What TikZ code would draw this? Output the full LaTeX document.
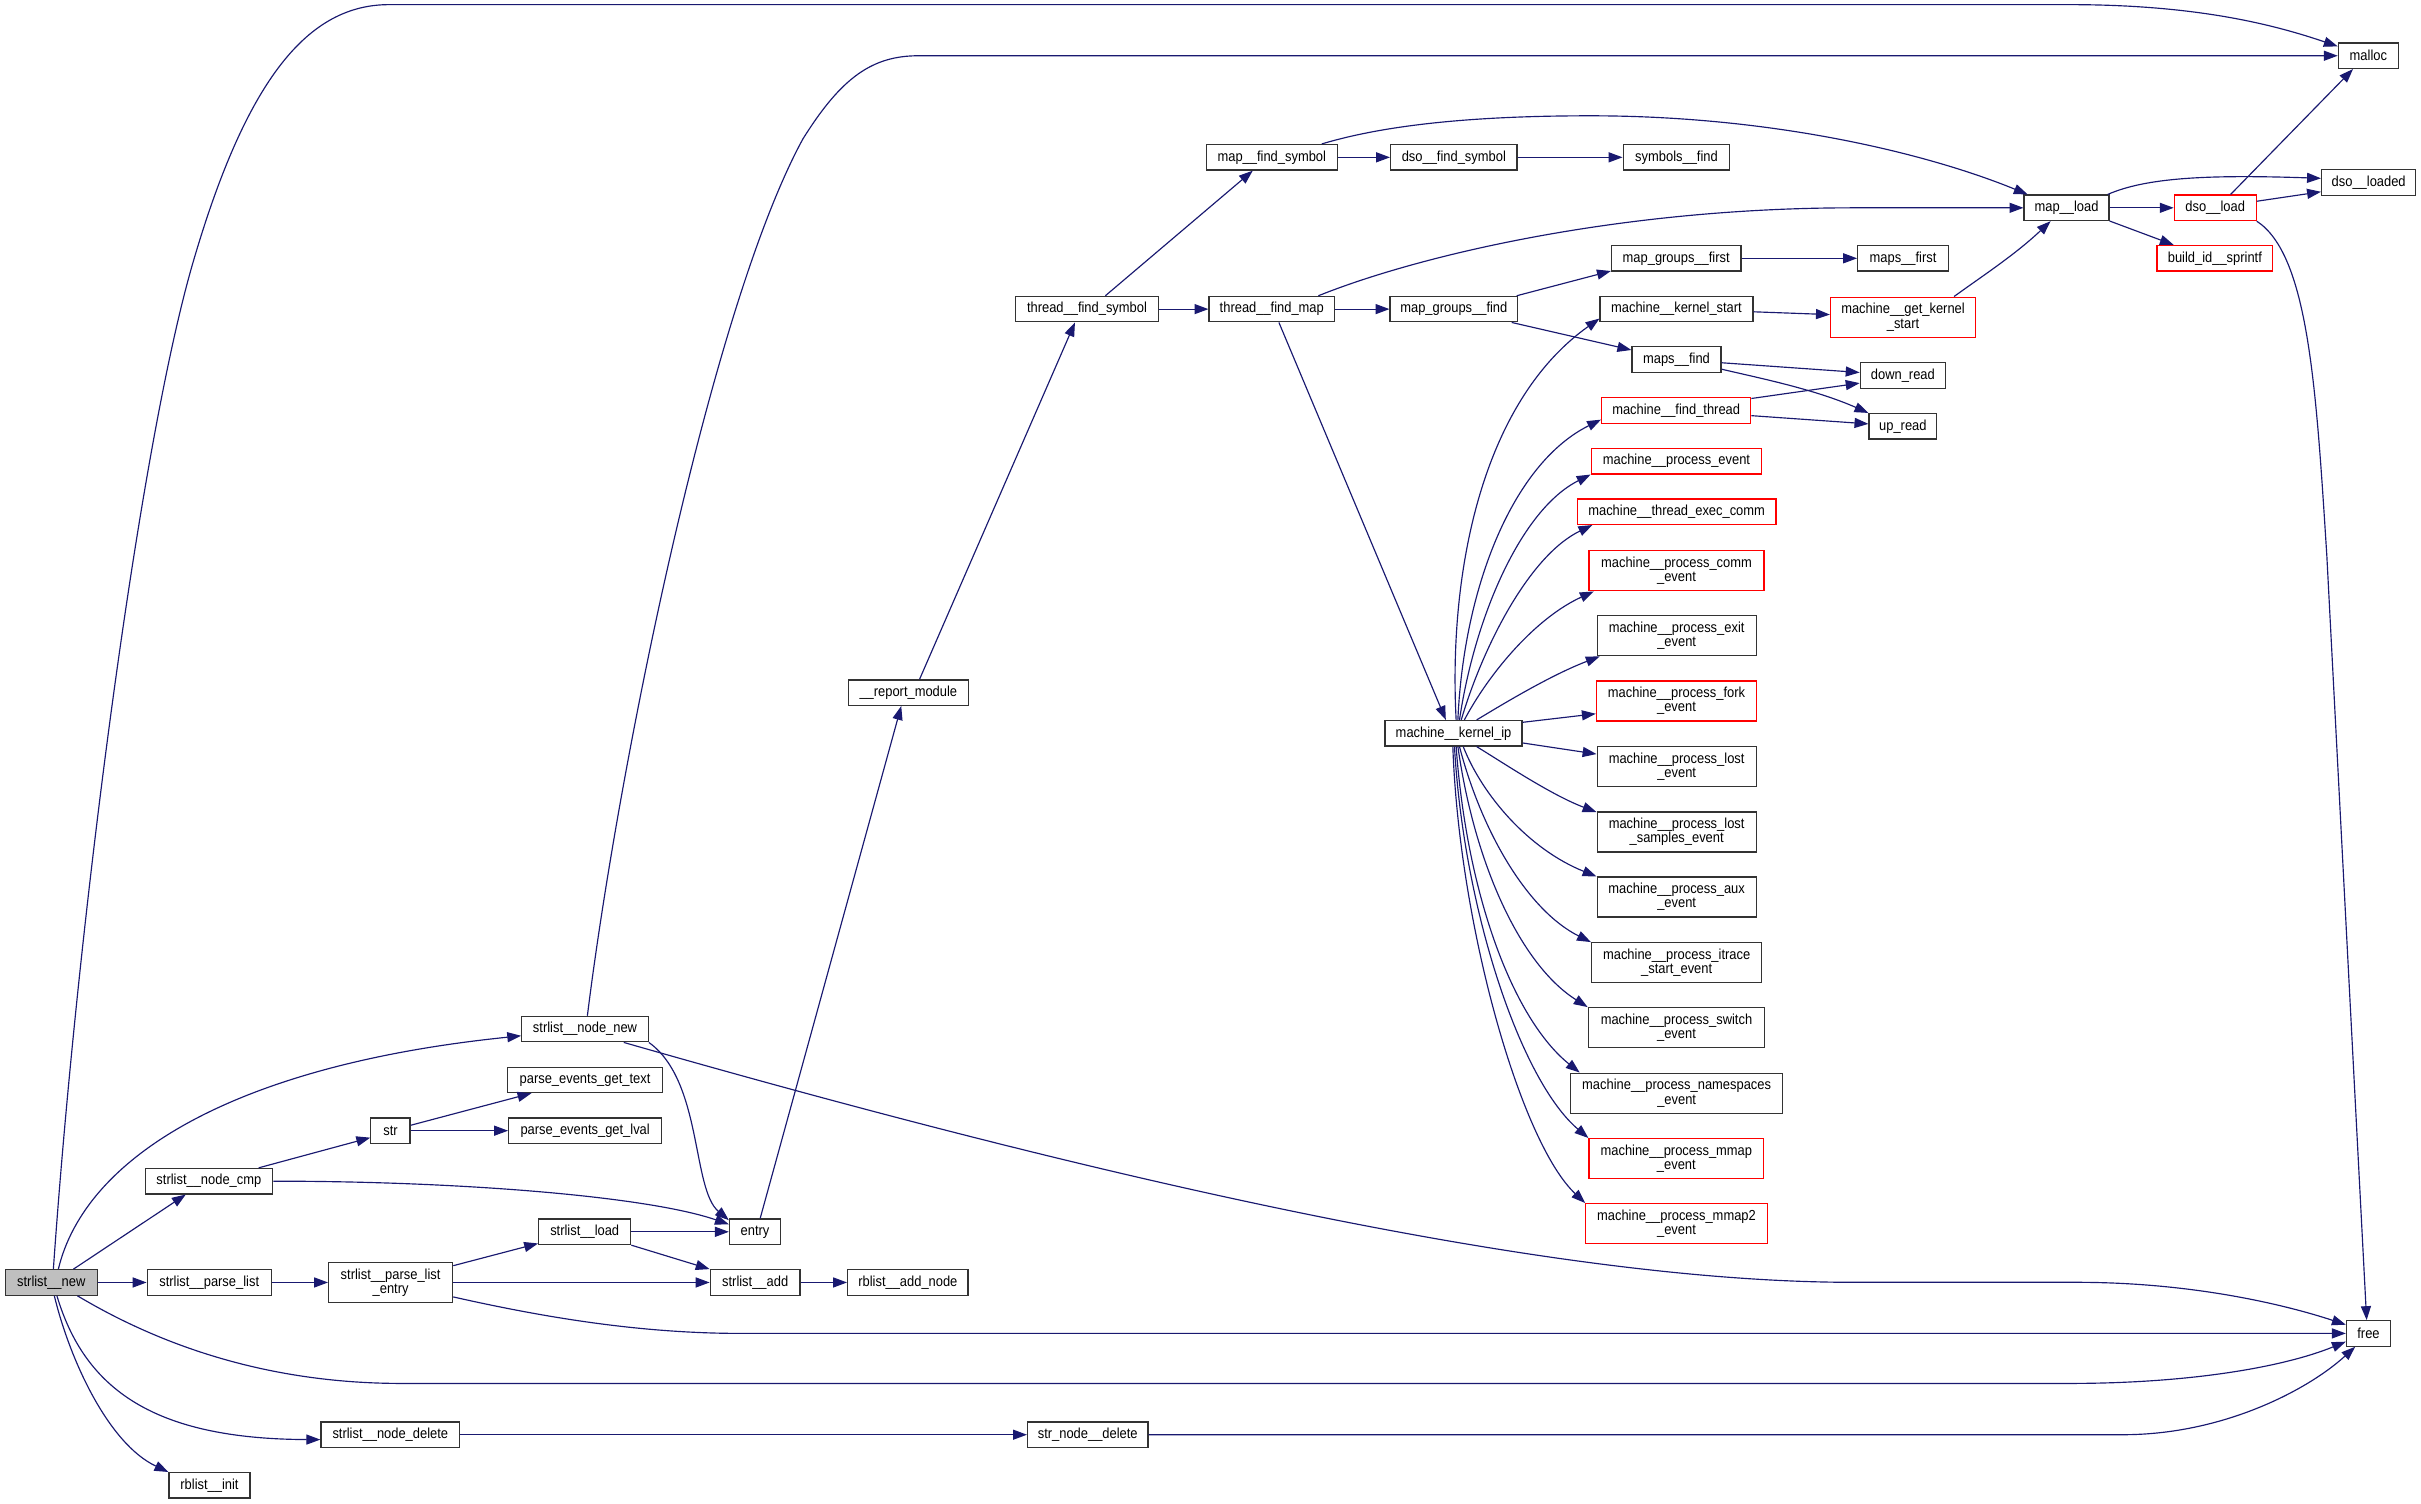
\documentclass[tikz,border=0pt]{standalone}
\usepackage{fontspec}
\setmainfont[FakeStretch=0.89]{Liberation Sans}
\usetikzlibrary{arrows.meta}
\definecolor{edgecol}{RGB}{25,25,112}
\definecolor{boxgray}{RGB}{191,191,191}
\newcommand\nodefnt{\fontsize{9.4}{9.2}\selectfont}
\tikzset{
  box/.style={draw=black!80, line width=0.8pt, fill=white, inner sep=0pt, align=center, font=\nodefnt, minimum height=16.5pt},
  tall/.style={minimum height=25.9pt},
  redbox/.style={box, draw=red},
  graybox/.style={box, fill=boxgray},
  edge/.style={draw=edgecol, line width=0.75pt, -{Triangle[length=9pt,width=6.5pt]}},
}
\begin{document}
\begin{tikzpicture}[x=1pt,y=-1pt]
\fill[white] (0,0) rectangle (1568,974);
\useasboundingbox (0,0) rectangle (1568,974);

% nodes
\node[graybox, minimum width=59.5pt] (S) at (33.2,830.6) {strlist\_\_new};
\node[box, minimum width=81.9pt] (NN) at (378.9,666.5) {strlist\_\_node\_new};
\node[box, minimum width=100.1pt] (PEGT) at (378.9,699.4) {parse\_events\_get\_text};
\node[box, minimum width=25.4pt] (STR) at (252.9,732.3) {str};
\node[box, minimum width=99.1pt] (PEGL) at (379,732.3) {parse\_events\_get\_lval};
\node[box, minimum width=82.6pt] (NCMP) at (135.3,765) {strlist\_\_node\_cmp};
\node[box, minimum width=59.6pt] (LOAD) at (378.7,797.8) {strlist\_\_load};
\node[box, minimum width=33.1pt] (ENTRY) at (489,797.8) {entry};
\node[box, minimum width=80.3pt] (PL) at (135.5,830.6) {strlist\_\_parse\_list};
\node[box, tall, minimum width=80.3pt, minimum height=25.7pt] (PLE) at (253,830.6) {strlist\_\_parse\_list\\\_entry};
\node[box, minimum width=58.2pt] (ADD) at (489.1,830.6) {strlist\_\_add};
\node[box, minimum width=78pt] (RAN) at (588,830.6) {rblist\_\_add\_node};
\node[box, minimum width=89.9pt] (ND) at (252.8,929.2) {strlist\_\_node\_delete};
\node[box, minimum width=78pt] (SND) at (704.5,929.2) {str\_node\_\_delete};
\node[box, minimum width=52.5pt] (RI) at (135.7,962) {rblist\_\_init};
\node[box, minimum width=77.5pt] (RM) at (588.3,448.6) {\_\_report\_module};
\node[box, minimum width=92.5pt] (TFS) at (704,200.2) {thread\_\_find\_symbol};
\node[box, minimum width=84.7pt] (MFS) at (823.7,101.9) {map\_\_find\_symbol};
\node[box, minimum width=81.9pt] (DFS) at (941.6,101.9) {dso\_\_find\_symbol};
\node[box, minimum width=69.1pt] (SF) at (1085.8,101.9) {symbols\_\_find};
\node[box, minimum width=81.3pt] (TFM) at (823.7,200.2) {thread\_\_find\_map};
\node[box, minimum width=82.6pt] (MGF) at (941.6,200.2) {map\_groups\_\_find};
\node[box, minimum width=83.8pt] (MGFI) at (1085.6,167.3) {map\_groups\_\_first};
\node[box, minimum width=58.7pt] (MF) at (1232.5,167.3) {maps\_\_first};
\node[box, minimum width=99pt] (MKS) at (1085.8,200.2) {machine\_\_kernel\_start};
\node[redbox, tall, minimum width=93.9pt] (MGKS) at (1232.5,205.4) {machine\_\_get\_kernel\\\_start};
\node[box, minimum width=57.7pt] (MAPSF) at (1085.8,232.9) {maps\_\_find};
\node[box, minimum width=55.2pt] (DR) at (1232.4,243.2) {down\_read};
\node[redbox, minimum width=96.6pt] (MFT) at (1085.6,265.8) {machine\_\_find\_thread};
\node[box, minimum width=43.8pt] (UR) at (1232.4,276.1) {up\_read};
\node[redbox, minimum width=110.5pt] (MPE) at (1085.8,298.7) {machine\_\_process\_event};
\node[redbox, minimum width=128.8pt] (MTEC) at (1085.9,331.4) {machine\_\_thread\_exec\_comm};
\node[redbox, tall, minimum width=113.3pt] (MPC) at (1085.8,369.7) {machine\_\_process\_comm\\\_event};
\node[box, tall, minimum width=103pt] (MPX) at (1085.9,411.8) {machine\_\_process\_exit\\\_event};
\node[redbox, tall, minimum width=103.7pt] (MPF) at (1085.8,454) {machine\_\_process\_fork\\\_event};
\node[box, minimum width=88.8pt] (KIP) at (941.4,474.9) {machine\_\_kernel\_ip};
\node[box, tall, minimum width=103pt] (MPL) at (1085.9,496.6) {machine\_\_process\_lost\\\_event};
\node[box, tall, minimum width=103pt] (MPLS) at (1085.9,538.9) {machine\_\_process\_lost\\\_samples\_event};
\node[box, tall, minimum width=103pt] (MPA) at (1085.9,581) {machine\_\_process\_aux\\\_event};
\node[box, tall, minimum width=110.3pt] (MPI) at (1085.9,623.5) {machine\_\_process\_itrace\\\_start\_event};
\node[box, tall, minimum width=114.3pt] (MPS) at (1085.8,665.6) {machine\_\_process\_switch\\\_event};
\node[box, tall, minimum width=137.2pt] (MPN) at (1085.9,708) {machine\_\_process\_namespaces\\\_event};
\node[redbox, tall, minimum width=113.1pt] (MPM) at (1085.7,750.4) {machine\_\_process\_mmap\\\_event};
\node[redbox, tall, minimum width=117.5pt] (MPM2) at (1085.8,792.5) {machine\_\_process\_mmap2\\\_event};
\node[box, minimum width=55pt] (ML) at (1338.4,134.6) {map\_\_load};
\node[redbox, minimum width=53pt] (DL) at (1434.7,134.6) {dso\_\_load};
\node[redbox, minimum width=75pt] (BIS) at (1434.5,167.3) {build\_id\_\_sprintf};
\node[box, minimum width=38.9pt] (MALLOC) at (1533.9,36.1) {malloc};
\node[box, minimum width=61pt] (DLD) at (1534.1,118.2) {dso\_\_loaded};
\node[box, minimum width=28.6pt] (FREE) at (1534,863.6) {free};

% edges from strlist__new
\draw[edge] (S.81) .. controls (50,600) and (90,290) .. (125,170) .. controls (160,50) and (200,3) .. (252,3) -- (1340,3) .. controls (1420,3) and (1470,15) .. (MALLOC.163);
\draw[edge] (S.62) .. controls (55,750) and (150,690) .. (NN.186);
\draw[edge] (S.31) -- (NCMP.210);
\draw[edge] (S.east) -- (PL.west);
\draw[edge] (S.333) .. controls (110,875) and (180,896) .. (260,896) -- (1340,896) .. controls (1420,896) and (1480,885) .. (FREE.200);
\draw[edge] (S.293) .. controls (55,900) and (100,932) .. (ND.184);
\draw[edge] (S.283) .. controls (45,880) and (70,935) .. (RI.162);

% strlist__node_new
\draw[edge] (NN.80) .. controls (400,500) and (460,200) .. (520,90) .. controls (545,50) and (565,36.1) .. (595,36.1) -- (MALLOC.west);
\draw[edge] (NN.south east) .. controls (455,700) and (448,770) .. (ENTRY.156);
\draw[edge] (NN.341) .. controls (700,760) and (1000,830.5) .. (1200,830.5) -- (1345,830.5) .. controls (1420,830.5) and (1480,845) .. (FREE.159);

% strlist__node_cmp, str
\draw[edge] (NCMP.15) -- (STR.199);
\draw[edge] (NCMP.east) .. controls (300,765) and (420,775) .. (ENTRY.164);
\draw[edge] (STR.15) -- (PEGT.194);
\draw[edge] (STR.east) -- (PEGL.west);

% parse list
\draw[edge] (PL.east) -- (PLE.west);
\draw[edge] (PLE.15) -- (LOAD.194);
\draw[edge] (PLE.east) -- (ADD.west);
\draw[edge] (PLE.347) .. controls (360,855) and (420,863.6) .. (480,863.6) -- (FREE.west);
\draw[edge] (LOAD.east) -- (ENTRY.west);
\draw[edge] (LOAD.south east) -- (ADD.north west);
\draw[edge] (ADD.east) -- (RAN.west);

% entry chain
\draw[edge] (ENTRY.69) -- (RM.242);
\draw[edge] (RM.50) -- (TFS.228);
\draw[edge] (TFS.36) -- (MFS.215);
\draw[edge] (TFS.east) -- (TFM.west);
\draw[edge] (MFS.east) -- (DFS.west);
\draw[edge] (MFS.15) .. controls (900,80) and (960,75) .. (1030,75) .. controls (1150,75) and (1250,100) .. (ML.161);
\draw[edge] (DFS.east) -- (SF.west);
\draw[edge] (TFM.east) -- (MGF.west);
\draw[edge] (TFM.16) .. controls (920,165) and (1050,134.6) .. (1200,134.6) -- (ML.west);
\draw[edge] (TFM.298) -- (KIP.120);
\draw[edge] (MGF.12) -- (MGFI.191);
\draw[edge] (MGF.347) -- (MAPSF.168);
\draw[edge] (MGFI.east) -- (MF.west);
\draw[edge] (MKS.358) -- (MGKS.178);
\draw[edge] (MGKS.22) .. controls (1285,178) and (1305,165) .. (ML.220);
\draw[edge] (MAPSF.356) -- (DR.176);
\draw[edge] (MAPSF.348) .. controls (1140,245) and (1175,252) .. (UR.north west);
\draw[edge] (MFT.9) -- (DR.190);
\draw[edge] (MFT.356) -- (UR.176);

% map__load / dso__load
\draw[edge] (ML.east) -- (DL.west);
\draw[edge] (ML.18) .. controls (1390,115) and (1430,113) .. (DLD.175);
\draw[edge] (ML.343) -- (BIS.162);
\draw[edge] (DL.41) -- (MALLOC.221);
\draw[edge] (DL.9) -- (DLD.191);
\draw[edge] (DL.south east) .. controls (1495,165) and (1500,250) .. (1507,360) -- (FREE.98);

% delete chain
\draw[edge] (ND.east) -- (SND.west);
\draw[edge] (SND.east) -- (1375,929.2) .. controls (1440,929.2) and (1495,900) .. (FREE.225);

% machine__kernel_ip fan
\draw[edge] (KIP.79) .. controls (938,370) and (960,260) .. (MKS.187);
\draw[edge] (KIP.72) .. controls (948,380) and (980,300) .. (MFT.187);
\draw[edge] (KIP.66) .. controls (955,400) and (985,330) .. (MPE.south west);
\draw[edge] (KIP.60) .. controls (960,420) and (990,360) .. (MTEC.189);
\draw[edge] (KIP.51) .. controls (965,435) and (995,400) .. (MPC.194);
\draw[edge] (KIP.30) .. controls (975,455) and (1005,437) .. (MPX.195);
\draw[edge] (KIP.9) -- (MPF.189);
\draw[edge] (KIP.352) -- (MPL.171);
\draw[edge] (KIP.330) .. controls (975,495) and (1005,515) .. (MPLS.166);
\draw[edge] (KIP.306) .. controls (960,515) and (990,550) .. (MPA.north west);
\draw[edge] (KIP.294) .. controls (960,540) and (990,590) .. (MPI.north west);
\draw[edge] (KIP.288) .. controls (955,560) and (985,625) .. (MPS.north west);
\draw[edge] (KIP.281) .. controls (950,580) and (980,660) .. (MPN.168);
\draw[edge] (KIP.274) .. controls (948,590) and (985,700) .. (MPM.north west);
\draw[edge] (KIP.267) .. controls (945,600) and (985,740) .. (MPM2.north west);
\end{tikzpicture}
\end{document}
